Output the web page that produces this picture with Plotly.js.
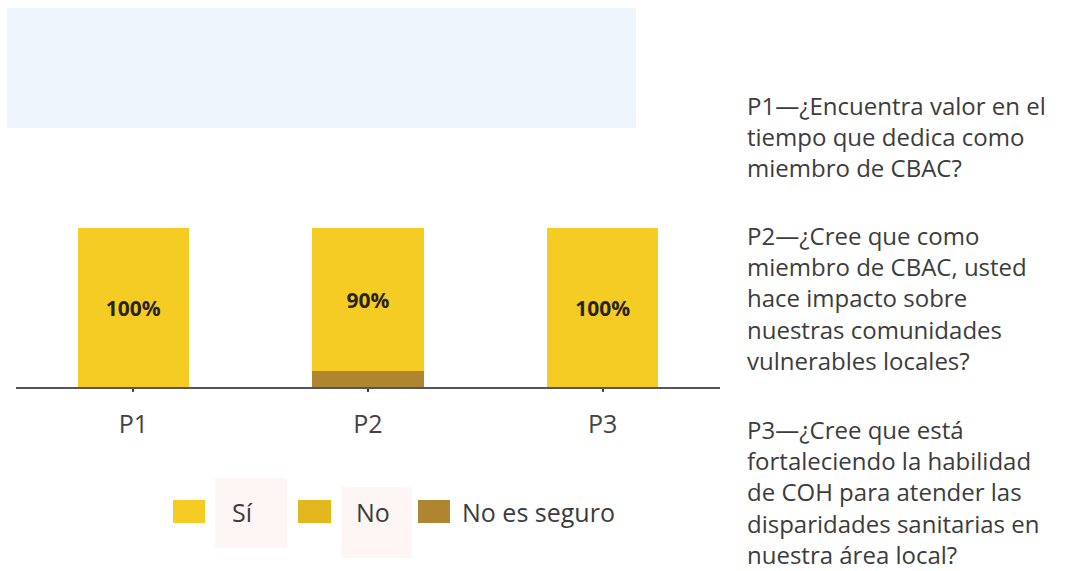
<!DOCTYPE html>
<html>
<head>
<meta charset="utf-8">
<script src="https://cdn.plot.ly/plotly-3.0.1.min.js"></script>
<style>html,body{margin:0;padding:0;background:#fff;}#chart{width:1074px;height:571px;}</style>
</head>
<body>
<div id="chart"></div>
<script>
// ---- data ----
const categories = ["P1", "P2", "P3"];
const seriesNames = ["Sí", "No", "No es seguro"];
const siValues = [100, 90, 100];
const noValues = [0, 0, 0];
const noSeguroValues = [0, 10, 0];
const seriesColors = ["#F5CC24", "#E2B81E", "#B08530"];
const questionLines = [
  ["P1—¿Encuentra valor en el", "tiempo que dedica como", "miembro de CBAC?"],
  ["P2—¿Cree que como", "miembro de CBAC, usted", "hace impacto sobre", "nuestras comunidades", "vulnerables locales?"],
  ["P3—¿Cree que está", "fortaleciendo la habilidad", "de COH para atender las", "disparidades sanitarias en", "nuestra área local?"]
];

// ---- helpers (pixel -> paper) ----
const W = 1074, H = 571;
const px = x => x / W;
const py = y => 1 - y / H;
const FONT = "Open Sans, Noto Sans, sans-serif";

const traces = [
  { type: "bar", name: seriesNames[2], x: categories, y: noSeguroValues,
    marker: { color: seriesColors[2], line: { width: 0 } }, hoverinfo: "skip", showlegend: false },
  { type: "bar", name: seriesNames[1], x: categories, y: noValues,
    marker: { color: seriesColors[1], line: { width: 0 } }, hoverinfo: "skip", showlegend: false },
  { type: "bar", name: seriesNames[0], x: categories, y: siValues,
    marker: { color: seriesColors[0], line: { width: 0 } }, hoverinfo: "skip", showlegend: false,
    texttemplate: "%{y}%", textposition: "inside", insidetextanchor: "middle",
    textfont: { family: FONT, size: 21, color: "#2a2414", weight: "bold" }, constraintext: "none" }
];

const shapes = [
  // light blue header box
  { type: "rect", xref: "paper", yref: "paper", x0: px(7), x1: px(636), y0: py(128), y1: py(8),
    fillcolor: "#EEF5FD", line: { width: 0 }, layer: "below" },
  // faint boxes behind legend labels
  { type: "rect", xref: "paper", yref: "paper", x0: px(215), x1: px(287), y0: py(548), y1: py(478),
    fillcolor: "#FDF6F5", line: { width: 0 }, layer: "below" },
  { type: "rect", xref: "paper", yref: "paper", x0: px(342), x1: px(412), y0: py(558), y1: py(487),
    fillcolor: "#FDF6F5", line: { width: 0 }, layer: "below" }
];

const annotations = [];

// legend (squares + labels)
const legendSquares = [[173, 205], [298, 331], [418, 450]];
const legendTextX = [230, 354, 460];
seriesNames.forEach((name, i) => {
  shapes.push({ type: "rect", xref: "paper", yref: "paper",
    x0: px(legendSquares[i][0]), x1: px(legendSquares[i][1]), y0: py(523), y1: py(500),
    fillcolor: seriesColors[i], line: { width: 0 } });
  annotations.push({ xref: "paper", yref: "paper", x: px(legendTextX[i]), y: py(512),
    xanchor: "left", yanchor: "middle", showarrow: false, text: name,
    font: { family: FONT, size: 25, color: "#3c3c3c" } });
});

// question text blocks on the right
const blockCenters = [136, 298, 492];
questionLines.forEach((lines, q) => {
  annotations.push({ xref: "paper", yref: "paper", x: px(745), y: py(blockCenters[q]),
    xanchor: "left", yanchor: "middle", align: "left", showarrow: false,
    text: lines.join("<br>"),
    font: { family: FONT, size: 24, color: "#3c3c3c" } });
});

const layout = {
  width: W, height: H,
  margin: { l: 0, r: 0, t: 0, b: 0 },
  paper_bgcolor: "#ffffff", plot_bgcolor: "rgba(0,0,0,0)",
  barmode: "stack", bargap: 0.526,
  showlegend: false,
  xaxis: {
    domain: [px(16), px(720)],
    type: "category",
    showline: true, linecolor: "#555555", linewidth: 2,
    ticks: "outside", ticklen: 3, tickcolor: "#444444", tickwidth: 2,
    showgrid: false, zeroline: false,
    tickfont: { family: FONT, size: 25, color: "#444444" },
    ticklabelstandoff: 11
  },
  yaxis: {
    domain: [py(387), py(228)],
    range: [0, 100],
    showgrid: false, zeroline: false, showline: false, showticklabels: false, ticks: ""
  },
  shapes: shapes,
  annotations: annotations,
  font: { family: FONT }
};

Plotly.newPlot("chart", traces, layout, { staticPlot: true, displayModeBar: false });
</script>
</body>
</html>
